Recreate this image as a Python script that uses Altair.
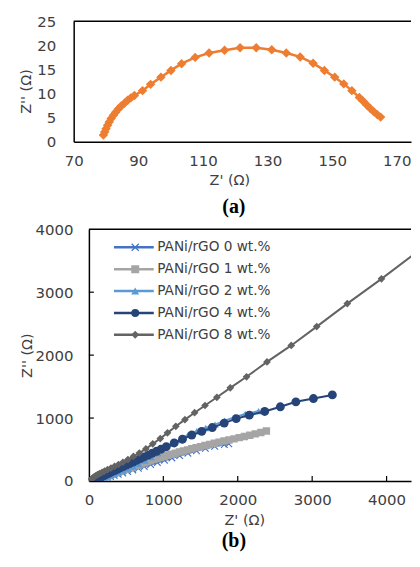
import altair as alt
import pandas as pd

# ---------------- data: panel (a) ----------------
top_x = [79.2, 79.6, 80.0, 80.5, 81.0, 81.6, 82.3, 83.0, 83.8, 84.7, 85.7, 86.7, 87.7, 88.8,
         91.3, 93.8, 97.0, 100.1, 103.4, 107.6, 111.9, 116.7, 121.5, 126.5, 131.3, 135.8,
         140.1, 144.1, 147.6, 150.8, 153.6, 156.1, 158.4, 159.6, 160.7, 161.8, 162.9, 164.0, 165.0]
top_y = [1.4, 2.0, 2.7, 3.4, 4.1, 4.8, 5.5, 6.1, 6.8, 7.4, 8.0, 8.6, 9.1, 9.6,
         10.6, 11.9, 13.4, 14.8, 16.2, 17.5, 18.4, 19.0, 19.5, 19.5, 19.1, 18.4,
         17.6, 16.3, 14.8, 13.4, 12.0, 10.6, 9.2, 8.4, 7.6, 6.9, 6.2, 5.6, 5.1]

# ---------------- data: panel (b) ----------------
series = ["PANi/rGO 0 wt.%", "PANi/rGO 1 wt.%", "PANi/rGO 2 wt.%", "PANi/rGO 4 wt.%", "PANi/rGO 8 wt.%"]
colors = ["#4472C4", "#A5A5A5", "#5B9BD5", "#264478", "#636363"]

x0 = [95, 115, 140, 170, 205, 245, 290, 340, 395, 455, 520, 590, 665, 745, 830, 920, 1015,
      1115, 1220, 1330, 1445, 1565, 1690, 1820, 1880]
y0 = [0, 8, 18, 29, 41, 55, 70, 87, 106, 127, 150, 175, 202, 231, 262, 295, 330,
      366, 404, 442, 480, 518, 552, 580, 592]

x1 = [90, 100, 110, 122, 135, 150, 165, 182, 200, 220, 240, 262, 285, 310, 335, 362, 390,
      420, 450, 482, 515, 550, 585, 622, 660, 700, 740, 782, 825, 870, 915, 962, 1010, 1060,
      1110, 1162, 1215, 1270, 1325, 1382, 1440, 1500, 1560, 1622, 1685, 1750, 1815, 1882,
      1950, 2020, 2090, 2162, 2235, 2310, 2385]
y1 = [5, 10, 15, 21, 28, 35, 42, 50, 58, 67, 76, 86, 96, 107, 118, 130, 142,
      155, 168, 181, 195, 209, 224, 240, 255, 271, 288, 305, 322, 339, 356, 373, 390, 407,
      425, 442, 460, 477, 495, 512, 530, 547, 565, 582, 600, 617, 635, 652,
      670, 689, 708, 728, 748, 771, 795]

x2 = [100, 120, 145, 175, 210, 250, 295, 345, 400, 460, 525, 595, 670, 750, 835, 925, 1020,
      1120, 1225, 1335, 1450, 1570, 1695, 1825, 1960, 2100, 2280]
y2 = [0, 10, 22, 36, 52, 70, 90, 112, 137, 165, 196, 230, 268, 325, 380, 445, 520,
      590, 650, 735, 790, 842, 895, 960, 1015, 1065, 1110]

x4 = [80, 95, 112, 130, 150, 172, 196, 222, 250, 280, 312, 346, 382, 420, 460, 502, 546,
      592, 640, 690, 742, 796, 852, 910, 970, 1040, 1146, 1257, 1382, 1516, 1658, 1818,
      1979, 2155, 2362, 2572, 2781, 3017, 3271]
y4 = [8, 18, 30, 42, 55, 68, 82, 97, 113, 130, 148, 167, 187, 208, 230, 253, 277,
      302, 328, 355, 383, 412, 442, 473, 505, 545, 605, 664, 730, 789, 849, 920,
      991, 1046, 1105, 1179, 1258, 1310, 1368]

x8 = [36, 50, 70, 90, 116, 143, 177, 210, 250, 297, 344, 397, 457, 524, 598, 678, 765,
      858, 959, 1056, 1168, 1290, 1420, 1560, 1720, 1900, 2118, 2393, 2719, 3061, 3472,
      3931, 4412]
y8 = [33, 48, 66, 82, 100, 118, 138, 158, 180, 205, 232, 262, 298, 340, 390, 445, 510,
      590, 675, 765, 869, 975, 1085, 1200, 1330, 1480, 1656, 1892, 2154, 2453, 2819,
      3212, 3643]

xs_all = [x0, x1, x2, x4, x8]
ys_all = [y0, y1, y2, y4, y8]

x_tick_vals = [1000, 2000, 3000, 4000]
y_tick_vals = [1000, 2000, 3000]

# ---------------- styling ----------------
FONT = "DejaVu Sans"
TXT = "#404040"
X_PATH = ("M-1,-0.78L-0.78,-1L0,-0.22L0.78,-1L1,-0.78L0.22,0L1,0.78L0.78,1L0,0.22"
          "L-0.78,1L-1,0.78L-0.22,0Z")
shapes = [X_PATH, "square", "triangle-up", "circle", "diamond"]
sizes = [55, 55, 55, 80, 60]

W = 339          # both panels share the same group width
SHIFT = 15.3     # panel (b) plot area starts this far right of panel (a)'s

# ---------------- panel (a) ----------------
HA = 121
top_df = pd.DataFrame({"x": top_x, "y": top_y})
xa = alt.X("x:Q", scale=alt.Scale(domain=[70, 174.4], nice=False, zero=False),
           axis=alt.Axis(values=[70, 90, 110, 130, 150, 170], title="Z' (Ω)", format="d",
                         labelPadding=12, titlePadding=5, titleX=156.5))
ya = alt.Y("y:Q", scale=alt.Scale(domain=[0, 25], nice=False),
           axis=alt.Axis(values=[0, 5, 10, 15, 20, 25], title="Z'' (Ω)", format="d",
                         labelPadding=18, titlePadding=3, titleY=70))
a_line = alt.Chart(top_df).mark_line(color="#ED7D31", strokeWidth=2.5).encode(x=xa, y=ya)
a_pts = alt.Chart(top_df).mark_point(shape="diamond", filled=True, size=90,
                                     color="#ED7D31", opacity=1).encode(x=xa, y=ya)
one = pd.DataFrame({"k": [0]})
a_border = alt.Chart(one).mark_rule(color="black", strokeWidth=1.5).encode(
    x=alt.value(0), x2=alt.value(W), y=alt.value(0))
top_chart = alt.layer(a_line, a_pts, a_border).properties(
    width=W, height=HA,
    title=alt.TitleParams("(a)", orient="bottom", font="Liberation Serif", fontWeight="bold",
                          fontSize=20, color="black", dx=-8.5, offset=10))

# ---------------- panel (b) ----------------
HB = 253
rows = []
for s, xs, ys in zip(series, xs_all, ys_all):
    for i, (xv, yv) in enumerate(zip(xs, ys)):
        rows.append({"series": s, "x": xv, "y": yv, "i": i})
bdf = pd.DataFrame(rows)

xb = alt.X("x:Q", scale=alt.Scale(domain=[0, 4328], nice=False, zero=False, range=[SHIFT, W]),
           axis=alt.Axis(values=[0, 1000, 2000, 3000, 4000], title="Z' (Ω)", format="d",
                         labelPadding=12, titlePadding=6, titleX=171.5))
yb = alt.Y("y:Q", scale=alt.Scale(domain=[0, 4000], nice=False),
           axis=alt.Axis(values=[0, 1000, 2000, 3000, 4000], title="Z'' (Ω)", format="d",
                         labelPadding=16, titlePadding=1, offset=-SHIFT))

stroke_scale = alt.Scale(domain=series, range=colors)
fill_scale = alt.Scale(range=colors)
shape_scale = alt.Scale(range=shapes)

line_legend = alt.Legend(title=None, orient="none", legendX=23.7 + SHIFT, legendY=7.5,
                         symbolType="stroke", symbolSize=1600, symbolStrokeWidth=2.5,
                         clipHeight=21.2, rowPadding=0, padding=0, labelOffset=2,
                         labelFont=FONT, labelFontSize=13.7, labelColor=TXT, labelLimit=300)
pt_legend = alt.Legend(title=None, orient="none", legendX=39.7 + SHIFT, legendY=7.5,
                       symbolSize=64, clipHeight=21.2, rowPadding=0, padding=0,
                       labelExpr="''", labelFont=FONT, labelFontSize=13.7,
                       symbolStrokeWidth=0, symbolOpacity=1)

layers = []
for s, sh, sz in zip(series, shapes, sizes):
    base = alt.Chart(bdf).transform_filter(alt.datum.series == s)
    layers.append(base.mark_line(strokeWidth=2, clip=True).encode(
        x=xb, y=yb, order="i:Q",
        stroke=alt.Stroke("series:N", scale=stroke_scale, legend=line_legend)))
    layers.append(base.mark_point(filled=True, size=sz, opacity=1, clip=True).encode(
        x=xb, y=yb,
        fill=alt.Fill("series:N", scale=fill_scale, legend=pt_legend),
        shape=alt.Shape("series:N", scale=shape_scale, legend=pt_legend)))

xt_df = pd.DataFrame({"x": x_tick_vals})
yt_df = pd.DataFrame({"y": y_tick_vals})
b_xticks = alt.Chart(xt_df).mark_rule(color="black", strokeWidth=1.2).encode(
    x=xb, y=alt.value(HB), y2=alt.value(HB - 5))
b_yticks = alt.Chart(yt_df).mark_rule(color="black", strokeWidth=1.2).encode(
    y=yb, x=alt.value(SHIFT), x2=alt.value(SHIFT + 5))
b_border = alt.Chart(one).mark_rule(color="black", strokeWidth=1.5).encode(
    x=alt.value(SHIFT), x2=alt.value(W), y=alt.value(0))

bottom_chart = alt.layer(*layers, b_xticks, b_yticks, b_border).properties(
    width=W, height=HB,
    title=alt.TitleParams("(b)", orient="bottom", font="Liberation Serif", fontWeight="bold",
                          fontSize=20, color="black", dx=-8.5, offset=4))

chart = alt.ConcatChart(concat=[top_chart, bottom_chart], columns=1,
                        spacing=5).resolve_legend(
    stroke="independent", fill="independent", shape="independent"
).properties(
    padding={"left": 10, "top": 5, "right": 0, "bottom": 0},
    background="white",
).configure_view(stroke=None).configure_axis(
    grid=False, ticks=False, tickSize=0, domainColor="black", domainWidth=1.5,
    labelFont=FONT, labelFontSize=15, labelColor=TXT, labelFlush=False,
    titleFont=FONT, titleFontSize=14.5, titleFontWeight="normal", titleColor=TXT,
).configure_legend(labelFont=FONT)

chart.save("out.html", embed_options={"renderer": "svg", "actions": False})
